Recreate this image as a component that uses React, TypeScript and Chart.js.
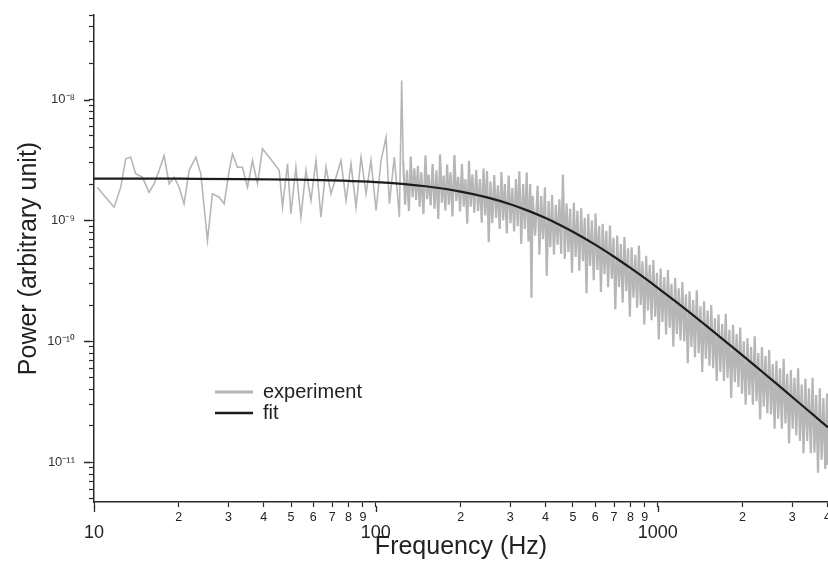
import React, { useEffect, useRef } from "react";
import { Chart, registerables } from "chart.js";

Chart.register(...registerables);

// ---------- data ----------
// experiment, low-frequency part (10 - 123.5 Hz)
const expLowFreqHz: number[] = [
  10.27, 11.0, 11.78, 12.44, 12.96, 13.5, 14.06, 14.84, 15.68, 16.34,
  17.02, 17.73, 18.47, 19.24, 20.04, 20.87, 21.75, 22.98, 23.93, 25.27,
  26.32, 27.8, 28.97, 30.17, 31.0, 32.29, 33.64, 35.04, 36.5, 38.03,
  39.61, 41.85, 43.6, 45.42, 46.66, 48.6, 49.96, 52.04, 54.22, 56.49,
  58.85, 61.3, 63.87, 66.53, 69.31, 72.21, 75.23, 78.38, 81.65, 85.06,
  88.62, 92.31, 96.1, 100.2, 104.3, 108.7, 111.7, 116.3, 121.2, 123.5,
];
const expLowPower: number[] = [
  1.885e-9, 1.558e-9, 1.288e-9, 1.885e-9, 3.236e-9, 3.336e-9, 2.432e-9, 2.279e-9, 1.714e-9, 2.01e-9,
  2.589e-9, 3.445e-9, 2.01e-9, 2.279e-9, 1.885e-9, 1.374e-9, 2.589e-9, 3.336e-9, 2.432e-9, 6.83e-10,
  1.662e-9, 1.558e-9, 1.374e-9, 2.589e-9, 3.558e-9, 2.757e-9, 2.757e-9, 1.885e-9, 3.132e-9, 2.01e-9,
  3.914e-9, 3.336e-9, 2.942e-9, 2.589e-9, 1.288e-9, 2.942e-9, 1.136e-9, 2.757e-9, 1.065e-9, 2.589e-9,
  1.463e-9, 3.132e-9, 1.065e-9, 2.757e-9, 1.662e-9, 2.279e-9, 3.132e-9, 1.463e-9, 2.942e-9, 1.288e-9,
  3.336e-9, 1.662e-9, 3.132e-9, 1.209e-9, 3.132e-9, 4.88e-9, 1.374e-9, 3.336e-9, 1.065e-9, 1.436e-8,
];

// experiment, dense part (125 - 4020 Hz)
const expHighFreqHz: number[] = [
  125, 127, 129, 131, 133, 135, 137, 139, 141, 143,
  145, 147.5, 150, 152, 154, 156.5, 159, 161.5, 164, 166.5,
  169, 171.5, 174, 176.5, 179, 181.5, 184, 187, 190, 193,
  196, 199, 202, 205, 208, 211, 214, 217, 220, 223.5,
  227, 230.5, 234, 237.5, 241, 244.5, 248, 251.5, 255, 259,
  263, 267, 271, 275, 279, 283, 287, 291.5, 296, 300.5,
  305, 309.5, 314, 318.5, 323, 328, 333, 338, 343, 348,
  353, 356.5, 360, 367.5, 375, 380.5, 386, 392, 398, 404,
  410, 416, 422, 428.5, 435, 441.5, 448, 454.5, 461, 468,
  475, 482, 489, 496.5, 504, 511.5, 519, 527, 535, 543,
  551, 559, 567, 575.5, 584, 593, 602, 611, 620, 629,
  638, 647.5, 657, 667, 677, 687, 697, 707.5, 718, 729,
  740, 751, 762, 773.5, 785, 796.5, 808, 820.5, 833, 845.5,
  858, 870.5, 883, 896.5, 910, 923.5, 937, 951, 965, 979.5,
  994, 1009, 1024, 1039.5, 1055, 1071, 1087, 1103, 1119, 1136,
  1153, 1170, 1187, 1205, 1223, 1241.5, 1260, 1278.5, 1297, 1316.5,
  1336, 1356, 1376, 1397, 1418, 1439, 1460, 1482, 1504, 1526.5,
  1549, 1572.5, 1596, 1619.5, 1643, 1668, 1693, 1718, 1743, 1769.5,
  1796, 1823, 1850, 1877.5, 1905, 1933.5, 1962, 1991.5, 2021, 2051.5,
  2082, 2113, 2144, 2176.5, 2209, 2242, 2275, 2309, 2343, 2378,
  2413, 2449.5, 2486, 2523, 2560, 2598.5, 2637, 2676.5, 2716, 2757,
  2798, 2840, 2882, 2925, 2968, 3012.5, 3057, 3103, 3149, 3196,
  3243, 3292, 3341, 3391, 3441, 3492.5, 3544, 3597, 3650, 3705,
  3760, 3816.5, 3873, 3931, 3989, 4005, 4020,
];
const expHighPower: number[] = [
  3.1e-9, 1.35e-9, 2.6e-9, 1.2e-9, 3.37e-9, 1.55e-9, 2.7e-9, 1.48e-9, 2.83e-9, 1.3e-9,
  2.5e-9, 1.13e-9, 3.45e-9, 1.5e-9, 2.4e-9, 1.33e-9, 2.93e-9, 1.25e-9, 2.6e-9, 1.03e-9,
  3.52e-9, 1.4e-9, 2.35e-9, 1.21e-9, 2.9e-9, 1.35e-9, 2.5e-9, 1.08e-9, 3.47e-9, 1.45e-9,
  2.3e-9, 1.19e-9, 2.93e-9, 1.3e-9, 2.2e-9, 9.4e-10, 3.11e-9, 1.3e-9, 2.4e-9, 1.16e-9,
  2.61e-9, 1.2e-9, 2.2e-9, 9.6e-10, 2.69e-9, 1.1e-9, 2.56e-9, 6.6e-10, 2.1e-9, 9.5e-10,
  2.38e-9, 1.05e-9, 1.95e-9, 8.5e-10, 2.52e-9, 1.0e-9, 2.0e-9, 7.8e-10, 2.35e-9, 9.5e-10,
  1.85e-9, 8.1e-10, 2.2e-9, 9.0e-10, 2.55e-9, 6.4e-10, 2.0e-9, 8.5e-10, 2.49e-9, 6.7e-10,
  2.0e-9, 2.3e-10, 1.6e-9, 7.5e-10, 1.94e-9, 5.2e-10, 1.6e-9, 7.0e-10, 1.88e-9, 3.5e-10,
  1.45e-9, 6.0e-10, 1.62e-9, 5.2e-10, 1.35e-9, 6.3e-10, 1.5e-9, 5.3e-10, 2.4e-9, 4.8e-10,
  1.38e-9, 5.5e-10, 1.25e-9, 3.7e-10, 1.4e-9, 5.0e-10, 1.2e-9, 3.85e-10, 1.26e-9, 4.6e-10,
  1.05e-9, 2.5e-10, 1.13e-9, 4.2e-10, 1.0e-9, 3.2e-10, 1.14e-9, 3.9e-10, 9.0e-10, 2.56e-10,
  9.4e-10, 3.6e-10, 8.2e-10, 2.8e-10, 9.1e-10, 3.3e-10, 7.2e-10, 1.84e-10, 7.5e-10, 2.8e-10,
  6.4e-10, 2.1e-10, 7.3e-10, 2.6e-10, 5.9e-10, 1.6e-10, 6.0e-10, 2.3e-10, 5.2e-10, 1.9e-10,
  6.2e-10, 2.0e-10, 4.6e-10, 1.38e-10, 5.1e-10, 1.8e-10, 4.3e-10, 1.5e-10, 4.7e-10, 1.6e-10,
  3.7e-10, 1.04e-10, 4.0e-10, 1.45e-10, 3.4e-10, 1.14e-10, 3.9e-10, 1.3e-10, 3.0e-10, 9.1e-11,
  3.35e-10, 1.15e-10, 2.75e-10, 1.02e-10, 3.1e-10, 1.0e-10, 2.45e-10, 6.6e-11, 2.6e-10, 9.0e-11,
  2.2e-10, 7.4e-11, 2.65e-10, 8.0e-11, 1.95e-10, 5.6e-11, 2.15e-10, 7.2e-11, 1.8e-10, 6.3e-11,
  2.0e-10, 6.0e-11, 1.55e-10, 4.7e-11, 1.67e-10, 5.6e-11, 1.4e-10, 4.7e-11, 1.69e-10, 5.0e-11,
  1.25e-10, 3.4e-11, 1.37e-10, 4.6e-11, 1.15e-10, 4.2e-11, 1.3e-10, 3.7e-11, 1.0e-10, 3.0e-11,
  1.06e-10, 3.6e-11, 9.0e-11, 3.0e-11, 1.1e-10, 3.2e-11, 8.0e-11, 2.26e-11, 9.0e-11, 2.9e-11,
  7.6e-11, 2.55e-11, 8.5e-11, 2.5e-11, 6.5e-11, 1.9e-11, 6.9e-11, 2.3e-11, 6.0e-11, 1.9e-11,
  7.2e-11, 2.1e-11, 5.4e-11, 1.43e-11, 5.8e-11, 1.9e-11, 5.0e-11, 1.67e-11, 6.0e-11, 1.5e-11,
  4.4e-11, 1.19e-11, 4.9e-11, 1.5e-11, 4.1e-11, 1.19e-11, 5.0e-11, 1.2e-11, 3.6e-11, 8.2e-12,
  4.1e-11, 1.05e-11, 3.4e-11, 8.8e-12, 3.7e-11, 9.5e-12, 3.2e-11,
];

const fitFreqHz: number[] = [
  10, 20, 50, 100, 150, 200, 250, 300, 350, 400, 450, 500, 600, 700,
  800, 900, 1000, 1200, 1500, 1700, 2000, 2300, 2600, 3000, 3400, 3800, 4020,
];
const fitPower: number[] = [
  2.218e-9, 2.214e-9, 2.18e-9, 2.075e-9, 1.918e-9, 1.734e-9, 1.545e-9, 1.362e-9, 1.195e-9,
  1.047e-9, 9.18e-10, 8.07e-10, 6.31e-10, 5.01e-10, 4.05e-10, 3.33e-10, 2.775e-10, 2.004e-10,
  1.325e-10, 1.046e-10, 7.66e-11, 5.84e-11, 4.6e-11, 3.47e-11, 2.71e-11, 2.174e-11, 1.947e-11,
];

const xTickValues: number[] = [
  10, 20, 30, 40, 50, 60, 70, 80, 90,
  100, 200, 300, 400, 500, 600, 700, 800, 900,
  1000, 2000, 3000, 4000,
];
const yDecades: number[] = [-12, -11, -10, -9, -8];
const yMantissas: number[] = [1, 2, 3, 4, 5, 6, 7, 8, 9];

const X_MIN = 10;
const X_MAX = 4020;
const Y_MIN = 4.7e-12;
const Y_MAX = 5e-8;
const DENSE_FROM_HZ = 124;

const seriesLabels = { experiment: "experiment", fit: "fit" };
const xTitle = "Frequency (Hz)";
const yTitle = "Power (arbitrary unit)";

// ---------- styles ----------
const FAMILY = "'Liberation Sans', Arial, Helvetica, sans-serif";
const AXIS = "#2a2a2a";
const EXP_COLOR = "#b6b6b6";
const FIT_COLOR = "#1c1c1c";

const isMajor = (v: number) => {
  if (!(v > 0)) return false;
  const l = Math.log10(v);
  return Math.abs(l - Math.round(l)) < 1e-6;
};
const mantissa = (v: number) => Math.round(v / Math.pow(10, Math.floor(Math.log10(v) + 1e-9)));
const SUP: Record<string, string> = {
  "-": "\u207B", "0": "\u2070", "1": "\u00B9", "2": "\u00B2", "3": "\u00B3", "4": "\u2074",
  "5": "\u2075", "6": "\u2076", "7": "\u2077", "8": "\u2078", "9": "\u2079",
};
const sup = (n: number) => String(n).split("").map((c) => SUP[c] ?? c).join("");

const yTickValues: number[] = [];
for (const d of yDecades) {
  for (const m of yMantissas) {
    const v = m * Math.pow(10, d);
    if (v >= Y_MIN * 0.999 && v <= Y_MAX * 1.001) yTickValues.push(v);
  }
}

const decorPlugin = {
  id: "decor",
  afterDraw(chart: any) {
    const { ctx, chartArea } = chart;
    const xs = chart.scales.x;
    const ys = chart.scales.y;
    ctx.save();
    // longer major ticks
    ctx.strokeStyle = AXIS;
    ctx.lineWidth = 1.3;
    ctx.beginPath();
    for (const t of xs.ticks) {
      if (!isMajor(t.value)) continue;
      const px = Math.round(xs.getPixelForValue(t.value)) + 0.5;
      ctx.moveTo(px, chartArea.bottom + 4);
      ctx.lineTo(px, chartArea.bottom + 10);
    }
    for (const t of ys.ticks) {
      if (!isMajor(t.value)) continue;
      const py = Math.round(ys.getPixelForValue(t.value)) + 0.5;
      ctx.moveTo(chartArea.left - 4, py);
      ctx.lineTo(chartArea.left - 10, py);
    }
    ctx.stroke();

    // legend
    const order = [seriesLabels.experiment, seriesLabels.fit];
    const x0 = chartArea.left + 121;
    const x1 = chartArea.left + 159;
    const tx = chartArea.left + 169;
    const ys0 = [chartArea.top + 377, chartArea.top + 398];
    ctx.font = `20px ${FAMILY}`;
    ctx.textBaseline = "middle";
    ctx.textAlign = "left";
    order.forEach((lab, i) => {
      const ds = chart.data.datasets.find((d: any) => d.label === lab);
      if (!ds) return;
      ctx.strokeStyle = ds.borderColor;
      ctx.lineWidth = lab === seriesLabels.fit ? 2.5 : 3;
      ctx.beginPath();
      ctx.moveTo(x0, ys0[i]);
      ctx.lineTo(x1, ys0[i]);
      ctx.stroke();
      ctx.fillStyle = "#222";
      ctx.fillText(lab, tx, ys0[i]);
    });
    ctx.restore();
  },
};

export default function App() {
  const ref = useRef<HTMLCanvasElement>(null);

  useEffect(() => {
    if (!ref.current) return;
    const expFreq = [...expLowFreqHz, ...expHighFreqHz];
    const expPow = [...expLowPower, ...expHighPower];
    const expData = expFreq.map((f, i) => ({ x: f, y: expPow[i] }));
    const fitData = fitFreqHz.map((f, i) => ({ x: f, y: fitPower[i] }));

    const chart = new Chart(ref.current, {
      type: "line",
      data: {
        datasets: [
          {
            label: seriesLabels.fit,
            data: fitData,
            borderColor: FIT_COLOR,
            borderWidth: 2.2,
            pointRadius: 0,
            cubicInterpolationMode: "monotone",
            fill: false,
            order: 0,
          },
          {
            label: seriesLabels.experiment,
            data: expData,
            borderColor: EXP_COLOR,
            borderWidth: 1.6,
            pointRadius: 0,
            tension: 0,
            fill: false,
            order: 1,
            segment: {
              borderWidth: (c: any) => (c.p0.parsed.x >= DENSE_FROM_HZ ? 2.2 : 1.6),
            },
          },
        ],
      },
      options: {
        animation: false,
        responsive: false,
        maintainAspectRatio: false,
        events: [],
        layout: { padding: { left: 0, right: 12, top: 15, bottom: 0 } },
        plugins: { legend: { display: false }, tooltip: { enabled: false } },
        scales: {
          x: {
            type: "logarithmic",
            min: X_MIN,
            max: X_MAX,
            afterBuildTicks: (axis: any) => {
              axis.ticks = xTickValues.map((v) => ({ value: v, major: isMajor(v) }));
            },
            afterFit: (axis: any) => {
              axis.height = 67;
              axis.paddingLeft = 0;
              axis.paddingRight = 0;
            },
            grid: {
              display: true,
              drawOnChartArea: false,
              drawTicks: true,
              tickLength: 5,
              tickColor: AXIS,
              tickWidth: 1.2,
              color: AXIS,
            },
            border: { display: true, color: AXIS, width: 1.5 },
            ticks: {
              autoSkip: false,
              maxRotation: 0,
              minRotation: 0,
              padding: 3,
              color: "#222",
              font: (ctx: any) =>
                ctx.tick && isMajor(ctx.tick.value)
                  ? { size: 18, lineHeight: 0.85, family: FAMILY }
                  : { size: 12.5, lineHeight: 1.2, family: FAMILY },
              callback: (v: any) => {
                const n = Number(v);
                return isMajor(n) ? ["", String(Math.round(n))] : String(mantissa(n));
              },
            },
            title: {
              display: true,
              text: xTitle,
              color: "#222",
              font: { size: 25, family: FAMILY },
              padding: { top: 0, bottom: 7 },
            },
          },
          y: {
            type: "logarithmic",
            min: Y_MIN,
            max: Y_MAX,
            afterBuildTicks: (axis: any) => {
              axis.ticks = yTickValues.map((v) => ({ value: v, major: isMajor(v) }));
            },
            afterFit: (axis: any) => {
              axis.width = 94;
              axis.paddingTop = 0;
              axis.paddingBottom = 0;
            },
            grid: {
              display: true,
              drawOnChartArea: false,
              drawTicks: true,
              tickLength: 5,
              tickColor: AXIS,
              tickWidth: 1.2,
              color: AXIS,
            },
            border: { display: true, color: AXIS, width: 1.5 },
            ticks: {
              autoSkip: false,
              padding: 14,
              color: "#333",
              font: { size: 13, family: FAMILY },
              callback: (v: any) => {
                const n = Number(v);
                return isMajor(n) ? "10" + sup(Math.round(Math.log10(n))) : "";
              },
            },
            title: {
              display: true,
              text: yTitle,
              color: "#222",
              font: { size: 25, family: FAMILY },
              padding: { top: 14, bottom: 0 },
            },
          },
        },
      },
      plugins: [decorPlugin],
    } as any);

    return () => chart.destroy();
  }, []);

  return (
    <div
      style={{
        position: "fixed",
        left: 0,
        top: 0,
        width: 828,
        height: 569,
        overflow: "hidden",
        background: "#fff",
      }}
    >
      <canvas ref={ref} width={840} height={569} style={{ display: "block", width: 840, height: 569 }} />
    </div>
  );
}
